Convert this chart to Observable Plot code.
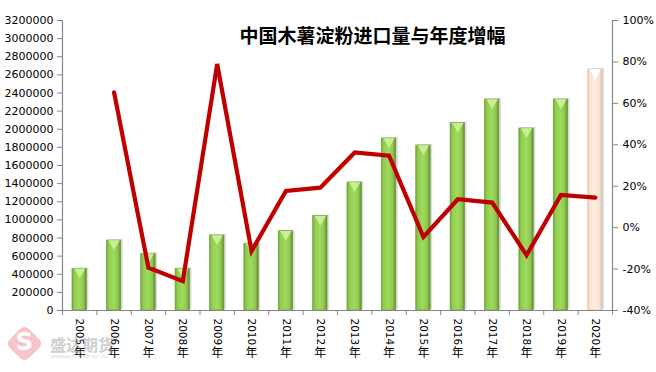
<!DOCTYPE html>
<html>
<head>
<meta charset="utf-8">
<script src="https://cdn.jsdelivr.net/npm/d3@7"></script>
<script src="https://cdn.jsdelivr.net/npm/@observablehq/plot@0.6"></script>
<style>
  html, body { margin: 0; padding: 0; background: #fff; }
  #wrap { position: relative; width: 656px; height: 372px; overflow: hidden; }
  #wm { position: absolute; left: 2px; top: 322px; width: 160px; height: 50px; opacity: 0.4; pointer-events: none; }
  #wm .logo { position: absolute; left: 9px; top: 8px; width: 27px; height: 27px; background: #e8707c; border-radius: 6px; transform: rotate(45deg); }
  #wm .s { position: absolute; left: 9px; top: 5px; width: 27px; height: 30px; color: #fff; font: bold 24px "DejaVu Sans", sans-serif; text-align: center; line-height: 30px; }
  #wm .cn { position: absolute; left: 48px; top: 10px; font: bold 16px "Noto Sans CJK SC", sans-serif; color: #8a8a8a; }
  #wm .en { position: absolute; left: 49px; top: 32px; font: 4px "DejaVu Sans", sans-serif; color: #8a8a8a; }
</style>
</head>
<body>
<div id="wrap">
  <div id="chart"></div>
  <div id="wm"><div class="logo"></div><div class="s">S</div><div class="cn">盛达期货</div><div class="en">SHENGDA FUTURES CO.,LTD.</div></div>
</div>
<script>
const title = "中国木薯淀粉进口量与年度增幅";
const years = [2005, 2006, 2007, 2008, 2009, 2010, 2011, 2012, 2013, 2014, 2015, 2016, 2017, 2018, 2019, 2020];
const yearSuffix = "年";
const imports = [460000, 772000, 625000, 460000, 828000, 735000, 875000, 1041000, 1412000, 1898000, 1821000, 2067000, 2328000, 2008000, 2328000, 2659000];
const growth = [null, 65.3, -19.4, -25.8, 79.0, -11.3, 17.7, 19.3, 36.3, 34.7, -4.5, 13.7, 12.1, -13.3, 15.8, 14.5];
const barKind = ["实际", "实际", "实际", "实际", "实际", "实际", "实际", "实际", "实际", "实际", "实际", "实际", "实际", "实际", "实际", "预估"];
const leftTicks = [0, 200000, 400000, 600000, 800000, 1000000, 1200000, 1400000, 1600000, 1800000, 2000000, 2200000, 2400000, 2600000, 2800000, 3000000, 3200000];
const rightTicks = [-40, -20, 0, 20, 40, 60, 80, 100];

const leftMax = 3200000;
const toLeft = d3.scaleLinear([-40, 100], [0, leftMax]);

const rows = years.map((y, i) => ({year: y, value: imports[i], pct: growth[i], kind: barKind[i]}));
const lineRows = rows.filter(d => d.pct != null).map(d => ({year: d.year, v: toLeft(d.pct)}));
const halfW = 0.21;
const boundaries = [years[0] - 0.5, ...years.map(y => y + 0.5)];
const axisColor = "#868686";

const plot = Plot.plot({
  width: 656,
  height: 372,
  marginLeft: 62,
  marginRight: 44,
  marginTop: 20,
  marginBottom: 62,
  style: {fontFamily: "DejaVu Sans, sans-serif", fontSize: "11px", color: "#000", background: "#fff"},
  x: {domain: [years[0] - 0.5, years[years.length - 1] + 0.5], axis: null},
  y: {domain: [0, leftMax], axis: null},
  marks: [
    Plot.rect(rows, {x1: d => d.year - halfW, x2: d => d.year + halfW, y1: 0, y2: "value", fill: "#9a9a9a", fillOpacity: 0.35, dx: 2, dy: -1}),
    Plot.rect(rows, {x1: d => d.year - halfW, x2: d => d.year + halfW, y1: 0, y2: "value",
      fill: d => d.kind === "预估" ? "url(#gPeach)" : "url(#gGreen)",
      stroke: d => d.kind === "预估" ? "#d9c7b8" : "#6f9a3c", strokeWidth: 0.6}),
    Plot.dot(rows, {x: "year", y: "value", symbol: "triangle", rotate: 180, r: 4.2, dy: 3,
      fill: d => d.kind === "预估" ? "#ffffff" : "#c9ee93", stroke: "none"}),
    Plot.ruleY([0], {stroke: axisColor, strokeWidth: 1.2}),
    Plot.ruleX([years[0] - 0.5, years[years.length - 1] + 0.5], {stroke: axisColor, strokeWidth: 1.2}),
    Plot.axisY({anchor: "left", ticks: leftTicks, tickSize: 5, tickPadding: 4, stroke: axisColor, tickFormat: d => String(d), fontSize: 11, label: null}),
    Plot.axisY({anchor: "right", ticks: rightTicks.map(toLeft), tickSize: 5, tickPadding: 5, stroke: axisColor, tickFormat: d => Math.round(toLeft.invert(d)) + "%", fontSize: 11, label: null}),
    Plot.axisX({ticks: boundaries, tickSize: 5, tickFormat: () => "", stroke: axisColor, label: null}),
    Plot.text(rows, {x: "year", y: 0, text: d => String(d.year), rotate: 90, textAnchor: "start", lineAnchor: "middle", dy: 8, fontSize: 10.5, fill: "#000"}),
    Plot.text(rows, {x: "year", y: 0, text: () => yearSuffix, lineAnchor: "middle", dy: 43, fontSize: 12, fill: "#000", fontFamily: "Noto Sans CJK SC, sans-serif"}),
    Plot.line(lineRows, {x: "year", y: "v", stroke: "#c00000", strokeWidth: 4.2, strokeLinejoin: "miter", strokeMiterlimit: 3}),
    Plot.text([title], {frameAnchor: "top", dx: 35, dy: 16, text: d => d, fontSize: 19, fontWeight: "bold", fill: "#000", lineAnchor: "middle", fontFamily: "Noto Sans CJK SC, sans-serif"})
  ]
});

const defs = d3.select(plot).insert("defs", ":first-child");
const gg = defs.append("linearGradient").attr("id", "gGreen").attr("x1", 0).attr("x2", 1).attr("y1", 0).attr("y2", 0);
[[0, "#6da534"], [0.15, "#8fcd4e"], [0.5, "#a0da5e"], [0.8, "#8ec84e"], [1, "#5f8a2e"]].forEach(([o, c]) => gg.append("stop").attr("offset", o).attr("stop-color", c));
const gp = defs.append("linearGradient").attr("id", "gPeach").attr("x1", 0).attr("x2", 1).attr("y1", 0).attr("y2", 0);
[[0, "#e3cbb8"], [0.18, "#fbe6d6"], [0.5, "#fdefe3"], [0.82, "#f8e2d1"], [1, "#d8c0ad"]].forEach(([o, c]) => gp.append("stop").attr("offset", o).attr("stop-color", c));

document.getElementById("chart").appendChild(plot);
</script>
</body>
</html>
